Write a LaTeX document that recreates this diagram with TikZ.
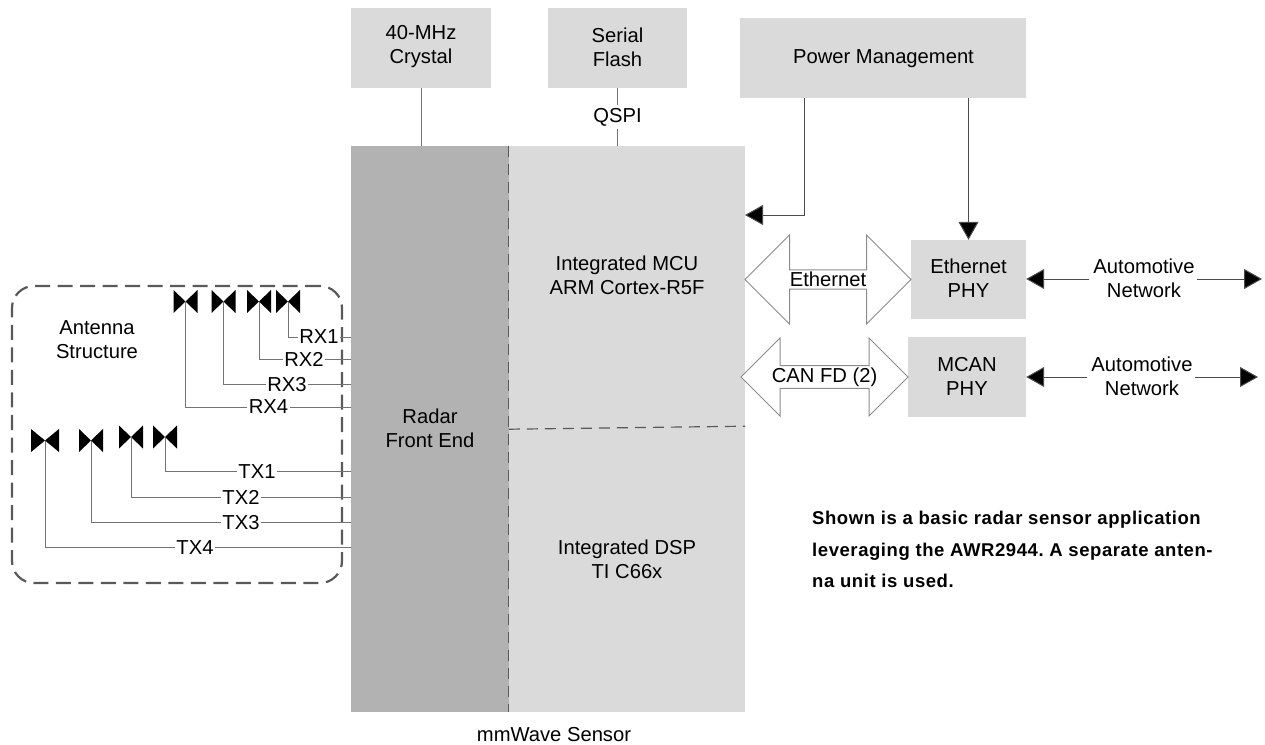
\documentclass[tikz,border=0pt]{standalone}
\usepackage{fontspec}
\setmainfont{Liberation Sans}
\newfontface\notefont[LetterSpace=3.1]{Liberation Sans Bold}
\usetikzlibrary{
    positioning,
    arrows.meta,
    shapes.arrows
}

\begin{document}
\begin{tikzpicture}[
    x=1pt, y=-1pt,
    font=\fontsize{20.2}{24}\selectfont,
    greybox/.style={
        rectangle, fill=black!14.5, draw=none, align=center, inner sep=0pt
    },
    frontblock/.style={
        rectangle, fill=black!30, draw=none, align=center, inner sep=0pt
    },
    portlabel/.style={
        rectangle, fill=white, align=center, inner sep=1.5pt
    },
    plainlabel/.style={
        rectangle, draw=none, fill=none, align=center, inner sep=0pt
    },
    wire/.style={draw=black!55, line width=0.9pt},
    arr/.style={draw=black!70, line width=1pt, -{Triangle[length=18pt, width=20pt, fill=black]}},
    splitline/.style={draw=black!65, line width=1.2pt, dash pattern=on 11pt off 7pt},
    busarrow/.style={
        shape=double arrow, draw=black!45, fill=white, line width=1pt,
        inner sep=0pt, double arrow head extend=#1
    },
    anttie/.style={
        rectangle, draw=none, minimum width=24pt, minimum height=23pt, inner sep=0pt,
        path picture={
            \fill[black] (path picture bounding box.north west)
                -- (path picture bounding box.center)
                -- (path picture bounding box.south west) -- cycle;
            \fill[black] (path picture bounding box.north east)
                -- (path picture bounding box.center)
                -- (path picture bounding box.south east) -- cycle;
        }
    },
    groupbox/.style={
        rectangle, draw=black!65, line width=2.2pt, rounded corners=22pt,
        dash pattern=on 15pt off 7.5pt, inner sep=0pt
    }
]
\useasboundingbox (0,0) rectangle (1265,744);

% Outside blocks along the top
\node[greybox, minimum width=140pt, minimum height=80pt] (crystal) at (421,48) {};
\node[plainlabel] (crystal_lbl) at (421,47) {40-MHz\\Crystal};
\node[greybox, minimum width=139pt, minimum height=80pt] (flash) at (617.5,48) {};
\node[plainlabel] (flash_lbl) at (617.5,47) {Serial\\Flash};
\node[greybox, minimum width=286pt, minimum height=80pt] (power) at (883,58) {};
\node[plainlabel] (power_lbl) at (883.5,59) {Power Management};

% mmWave sensor
\node[frontblock, minimum width=158pt, minimum height=566pt] (front) at (430,429) {};
\node[plainlabel] (front_lbl) at (430,428) {Radar\\Front End};
\node[greybox, minimum width=236pt, minimum height=281pt] (mcu) at (627,286.5) {};
\node[greybox, minimum width=236pt, minimum height=285pt] (dsp) at (627,569.5) {};
\node[plainlabel] (mcu_lbl) at (627,275) {Integrated MCU\\ARM Cortex-R5F};
\node[plainlabel] (dsp_lbl) at (627,559) {Integrated DSP\\TI C66x};
\node[plainlabel, below=15pt of front.south, xshift=124pt] (sensor_lbl) {mmWave Sensor};
\draw[splitline] (mcu.north west) -- (dsp.south west);
\draw[splitline] ([yshift=-2pt]mcu.south west) -- ([yshift=1pt]mcu.south east);

% Interfaces on the right
\node[greybox, minimum width=115pt, minimum height=79pt] (eth_phy) at (968.5,279.5) {};
\node[plainlabel] (eth_phy_lbl) at (968.5,278) {Ethernet\\PHY};
\node[greybox, minimum width=118pt, minimum height=80pt] (mcan_phy) at (967,377) {};
\node[plainlabel] (mcan_phy_lbl) at (967,376) {MCAN\\PHY};
\node[busarrow=28.5pt, minimum height=166pt, minimum width=89pt] (eth_bus) at (828,279.5) {\makebox[0pt]{Ethernet}};
\node[busarrow=24pt, minimum height=167pt, minimum width=78pt] (can_bus) at (824.5,377) {\makebox[0pt]{CAN FD (2)}};
\node[plainlabel] (net_a) at (1144,278) {Automotive\\Network};
\node[plainlabel] (net_b) at (1142,376) {Automotive\\Network};
\coordinate (net_a_end) at (1262,279);
\coordinate (net_b_end) at (1258,377);
\coordinate (pwr_out) at (804,98);
\coordinate (pwr_in) at (745,215);

% Antenna structure
\node[groupbox, minimum width=330pt, minimum height=297pt] (antbox) at (177,434.5) {};
\node[plainlabel] (ant_lbl) at (97,340) {Antenna\\Structure};

\node[anttie] (rx4_ant) at (185.5,301.5) {};
\node[anttie] (rx3_ant) at (223.5,301.5) {};
\node[anttie] (rx2_ant) at (259,301.5) {};
\node[anttie] (rx1_ant) at (288,301.5) {};
\node[anttie, minimum width=28pt] (tx4_ant) at (45,440.5) {};
\node[anttie] (tx3_ant) at (91,440.5) {};
\node[anttie] (tx2_ant) at (131,437) {};
\node[anttie] (tx1_ant) at (165,437) {};

\node[portlabel] (rx1) at (319,337) {RX1};
\node[portlabel] (rx2) at (304,359.5) {RX2};
\node[portlabel] (rx3) at (287,384.5) {RX3};
\node[portlabel] (rx4) at (268.5,407) {RX4};
\node[portlabel] (tx1) at (257,471.5) {TX1};
\node[portlabel] (tx2) at (241,497) {TX2};
\node[portlabel] (tx3) at (241,522.5) {TX3};
\node[portlabel] (tx4) at (195,547.5) {TX4};

% Note
\node[plainlabel, anchor=north west, align=left,
      font=\fontsize{18.5}{31.5}\notefont\frenchspacing] (note) at (812,511)
    {Shown is a basic radar sensor application\\
     leveraging the AWR2944. A separate anten-\\
     na unit is used.};

% ------------------------------- Connectors ----------------------------------
\draw[wire] (crystal.south) -- (crystal.south |- front.north);
\draw[wire] (flash.south) -- (flash.south |- mcu.north);
\node[portlabel, inner sep=3pt] (qspi) at (617.5,117) {QSPI};

\draw[arr] (pwr_out) |- (pwr_in);
\draw[arr] (eth_phy.north |- power.south) -- (eth_phy.north);

\draw[arr] (net_a.west |- net_a_end) ++(-4,0) -- (net_a_end -| eth_phy.east);
\draw[arr] (net_a.east |- net_a_end) ++(2,0) -- (net_a_end);
\draw[arr] (net_b.west |- net_b_end) ++(-4,0) -- (net_b_end -| mcan_phy.east);
\draw[arr] (net_b.east |- net_b_end) ++(2,0) -- (net_b_end);

\draw[wire] (rx1_ant.center) |- (rx1.west);
\draw[wire] (rx1.east) -- (rx1.east -| front.west);
\draw[wire] (rx2_ant.center) |- (rx2.west);
\draw[wire] (rx2.east) -- (rx2.east -| front.west);
\draw[wire] (rx3_ant.center) |- (rx3.west);
\draw[wire] (rx3.east) -- (rx3.east -| front.west);
\draw[wire] (rx4_ant.center) |- (rx4.west);
\draw[wire] (rx4.east) -- (rx4.east -| front.west);
\draw[wire] (tx1_ant.center) |- (tx1.west);
\draw[wire] (tx1.east) -- (tx1.east -| front.west);
\draw[wire] (tx2_ant.center) |- (tx2.west);
\draw[wire] (tx2.east) -- (tx2.east -| front.west);
\draw[wire] (tx3_ant.center) |- (tx3.west);
\draw[wire] (tx3.east) -- (tx3.east -| front.west);
\draw[wire] (tx4_ant.center) |- (tx4.west);
\draw[wire] (tx4.east) -- (tx4.east -| front.west);

\end{tikzpicture}
\end{document}
